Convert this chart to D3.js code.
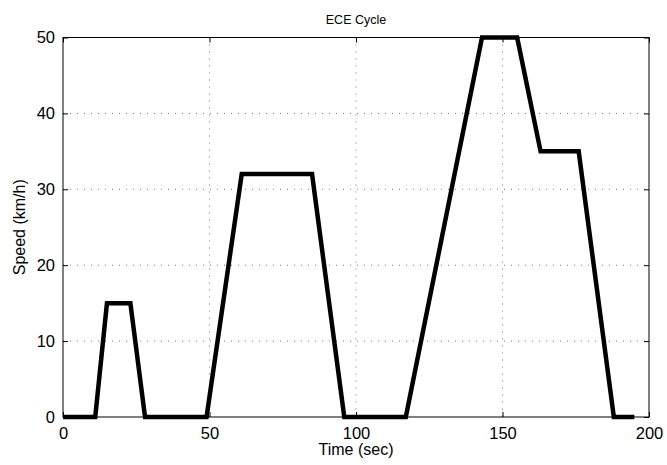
<!DOCTYPE html>
<html>
<head>
<meta charset="utf-8">
<script src="https://cdn.jsdelivr.net/npm/d3@7"></script>
<style>
  body { margin: 0; background: #fff; }
  svg text { font-family: "Liberation Sans", Arial, Helvetica, sans-serif; fill: #000; }
</style>
</head>
<body>
<div id="chart"></div>
<script>
// ECE-15 cycle: time (s) and speed (km/h)
const timeSec = [0, 11, 15, 23, 28, 49, 61, 85, 96, 117, 143, 155, 163, 176, 188, 195];
const speedKmh = [0, 0, 15, 15, 0, 0, 32, 32, 0, 0, 50, 50, 35, 35, 0, 0];
const xTicks = [0, 50, 100, 150, 200];
const yTicks = [0, 10, 20, 30, 40, 50];

const W = 667, H = 465;
const margin = { top: 37.5, right: 18, bottom: 48, left: 63 };
const width = W - margin.left - margin.right;
const height = H - margin.top - margin.bottom;

const svg = d3.select("#chart").append("svg")
  .attr("width", W).attr("height", H);

const g = svg.append("g").attr("transform", `translate(${margin.left},${margin.top})`);

const x = d3.scaleLinear().domain([0, 200]).range([0, width]);
const y = d3.scaleLinear().domain([0, 50]).range([height, 0]);

// Grid dotted
g.append("g").selectAll("line.vg").data(xTicks.slice(1, -1)).enter().append("line")
  .attr("x1", d => x(d)).attr("x2", d => x(d)).attr("y1", 0).attr("y2", height)
  .attr("stroke", "#777").attr("stroke-width", 1).attr("stroke-dasharray", "1,6");
g.append("g").selectAll("line.hg").data(yTicks.slice(1, -1)).enter().append("line")
  .attr("y1", d => y(d)).attr("y2", d => y(d)).attr("x1", 0).attr("x2", width)
  .attr("stroke", "#777").attr("stroke-width", 1).attr("stroke-dasharray", "1,6");

// Data line
const line = d3.line().x((d, i) => x(timeSec[i])).y(d => y(d));
g.append("path").datum(speedKmh)
  .attr("d", line).attr("fill", "none").attr("stroke", "#000")
  .attr("stroke-width", 4.5).attr("stroke-linejoin", "miter");

// Axes (ticks inward)
function styleAxis(sel) {
  sel.select(".domain").remove();
  sel.selectAll("line").attr("stroke", "#000");
  sel.selectAll("text").style("font-size", "16.5px");
}
g.append("g").attr("transform", `translate(0,${height})`)
  .call(d3.axisBottom(x).tickValues(xTicks).tickSizeInner(-5).tickSizeOuter(0).tickPadding(10))
  .call(styleAxis);
g.append("g")
  .call(d3.axisTop(x).tickValues(xTicks).tickSizeInner(-5).tickSizeOuter(0).tickFormat(""))
  .call(styleAxis);
g.append("g")
  .call(d3.axisLeft(y).tickValues(yTicks).tickSizeInner(-5).tickSizeOuter(0).tickPadding(8))
  .call(styleAxis);
g.append("g").attr("transform", `translate(${width},0)`)
  .call(d3.axisRight(y).tickValues(yTicks).tickSizeInner(-5).tickSizeOuter(0).tickFormat(""))
  .call(styleAxis);

// Box
g.append("rect").attr("width", width).attr("height", height)
  .attr("fill", "none").attr("stroke", "#000").attr("stroke-width", 1);

// Labels
g.append("text").attr("x", width / 2).attr("y", -14)
  .attr("text-anchor", "middle").style("font-size", "12.5px").text("ECE Cycle");
g.append("text").attr("x", width / 2).attr("y", height + 38)
  .attr("text-anchor", "middle").style("font-size", "16px").text("Time (sec)");
g.append("text").attr("transform", `translate(-38,${height / 2}) rotate(-90)`)
  .attr("text-anchor", "middle").style("font-size", "16px").text("Speed (km/h)");
</script>
</body>
</html>
